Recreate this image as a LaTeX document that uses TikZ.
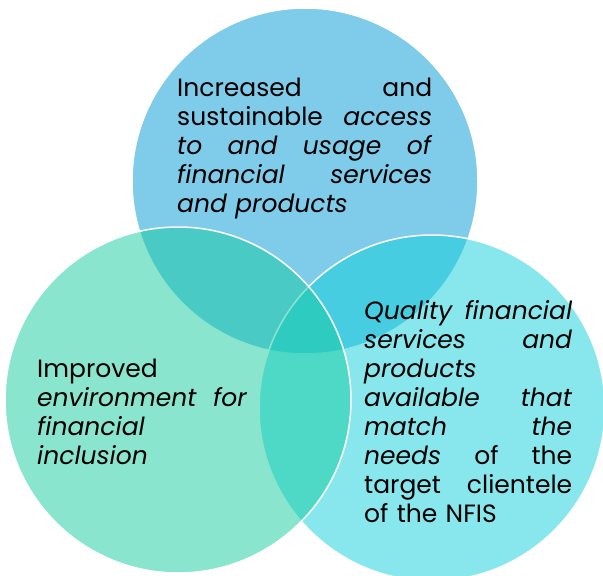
\documentclass[tikz,border=0pt]{standalone}
\usepackage{fontspec}
\setmainfont{Poppins}
\definecolor{topblue}{RGB}{0,151,213}
\definecolor{rightcyan}{RGB}{17,207,217}
\definecolor{leftmint}{RGB}{21,203,159}
\newcommand{\jline}[1]{\hbox to\hsize{#1}}
\begin{document}
\begin{tikzpicture}[x=1pt,y=-1pt,
		ring/.style={circle,draw=white,line width=1.5pt,fill opacity=0.5,minimum size=346pt,inner sep=0pt},
		blurb/.style={text width=#1,align=left,inner sep=0pt,anchor=north west,
			font=\fontsize{25}{29}\selectfont}]
		\useasboundingbox (0,0) rectangle (603,576);

		\node[ring,fill=topblue] (access) at (305,181) {};
		\node[ring,fill=rightcyan] (quality) at (432,408) {};
		\node[ring,fill=leftmint] (environment) at (178,400) {};

		\node[blurb=255pt] (accesstext) at (177,78) {
			\jline{Increased\hfill and}
			\jline{sustainable\hfill \textit{access}}
			\jline{\textit{to}\hfill \textit{and}\hfill \textit{usage}\hfill \textit{of}}
			\jline{\textit{financial}\hfill \textit{services}}
			\jline{\textit{and products}\hfill}};

		\node[blurb=210pt] (environmenttext) at (37,359) {
			\jline{Improved\hfill}
			\jline{\textit{environment}\hfill \textit{for}}
			\jline{\textit{financial}\hfill}
			\jline{\textit{inclusion}\hfill}};

		\node[blurb=208pt] (qualitytext) at (364,300) {
			\jline{\textit{Quality}\hfill \textit{financial}}
			\jline{\textit{services}\hfill \textit{and}}
			\jline{\textit{products}\hfill}
			\jline{\textit{available}\hfill \textit{that}}
			\jline{\textit{match}\hfill \textit{the}}
			\jline{\textit{needs}\hfill of\hfill the}
			\jline{target\hfill clientele}
			\jline{of the NFIS\hfill}};
	\end{tikzpicture}
\end{document}
